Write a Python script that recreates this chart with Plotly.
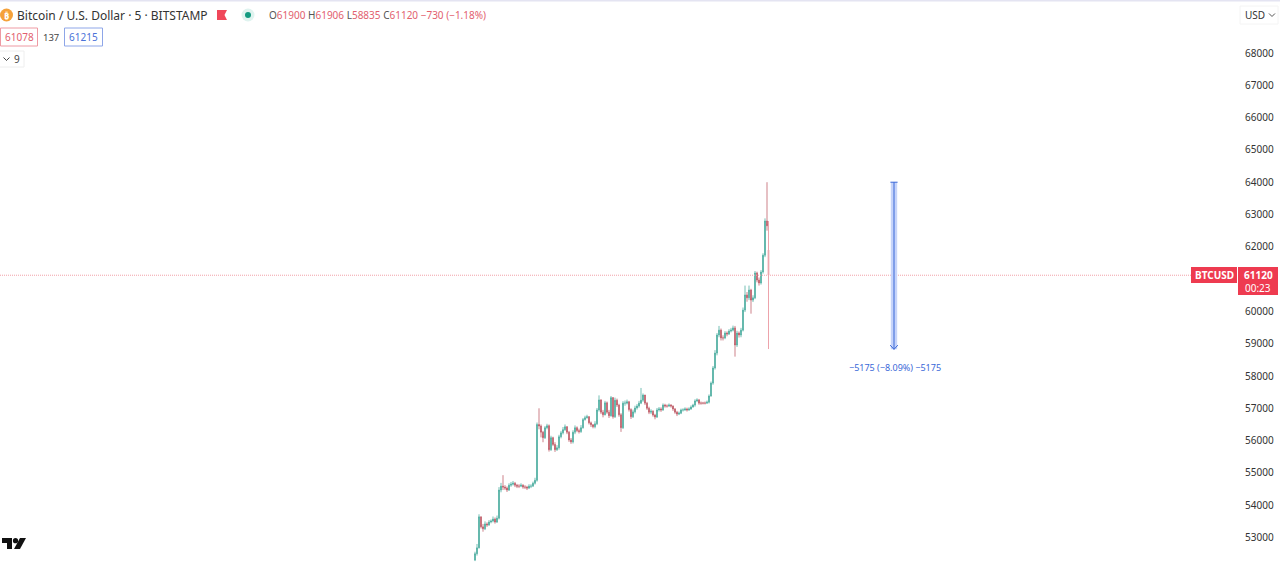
import plotly.graph_objects as go

W, H = 1280, 566
FONT = "Noto Sans"

# 5-minute BTCUSD candles
closes = [
    52500,52680,53640,53330,53270,53420,53390,53480,53510,53570,
    53480,53600,54470,54590,54560,54530,54470,54620,54650,54680,
    54620,54590,54590,54620,54560,54560,54530,54590,54590,54680,
    54770,56500,56450,56260,56090,56400,56460,55720,56090,55880,
    55720,55780,56120,56240,56340,56430,56260,56020,55960,56260,
    56400,56310,56280,56400,56650,56710,56740,56550,56490,56430,
    56520,56950,57260,56880,56800,57170,56880,56770,57330,56740,
    57250,57100,56800,56400,57160,57160,57200,56960,56740,56890,
    57010,57070,57160,57250,57410,57160,57000,56880,56910,56790,
    56730,56950,56980,56950,57100,57070,57070,57100,57070,56980,
    56880,56820,56850,56950,56950,56980,56950,56980,57040,57100,
    57230,57260,57160,57160,57160,57160,57190,57380,57780,58250,
    58710,59270,59420,59180,59180,59330,59300,59390,59420,59490,
    58960,59330,59270,59420,60040,60510,60420,60660,60350,60420,
    61190,60970,60880,61220,61740,62800,62650,
]
first_open = 52300
highs = [
    52560,52800,53720,53650,53420,53500,53470,53540,53560,53650,
    53620,53680,54560,54690,54930,54620,54580,54680,54720,54750,
    54720,54660,54650,54680,54650,54620,54600,54650,54650,54730,
    54850,56560,57000,56500,56300,56450,56520,56500,56150,56120,
    55950,55860,56180,56300,56420,56500,56450,56300,56080,56320,
    56470,56440,56370,56480,56700,56770,56800,56760,56590,56510,
    56600,57010,57400,57280,56950,57230,57210,56950,57380,57350,
    57330,57300,57140,56850,57220,57240,57270,57230,57000,56960,
    57080,57130,57230,57630,57460,57420,57200,57050,56970,56940,
    56830,57010,57040,57030,57150,57140,57120,57150,57130,57090,
    57010,56920,56900,56990,57000,57030,57020,57030,57090,57140,
    57280,57310,57290,57210,57200,57210,57240,57430,57830,58310,
    58800,59330,59550,59470,59260,59390,59380,59450,59490,59560,
    59550,59400,59380,59490,60120,60800,60600,60800,60700,60500,
    61250,61230,61050,61280,61800,62880,64000,
]
lows = [
    52270,52440,52660,53280,53180,53230,53330,53360,53440,53470,
    53430,53450,53560,54400,54470,54470,54410,54440,54570,54610,
    54560,54530,54530,54560,54510,54500,54470,54500,54530,54570,
    54640,54730,56350,56100,55950,56050,56350,55660,55680,55830,
    55650,55680,55720,56070,56190,56300,56200,55960,55900,55910,
    56200,56260,56220,56240,56370,56620,56680,56500,56420,56380,
    56380,56480,56900,56820,56720,56780,56830,56700,56740,56680,
    56700,57040,56740,56270,56360,57080,57120,56900,56670,56700,
    56840,56960,57020,57130,57200,57100,56950,56820,56820,56740,
    56660,56700,56900,56890,56920,57020,57020,57040,57020,56920,
    56830,56760,56790,56820,56900,56920,56900,56920,56950,57020,
    57050,57190,57110,57110,57120,57120,57140,57150,57360,57730,
    58200,58640,59200,59100,59100,59140,59230,59270,59350,59380,
    58600,58900,59190,59200,59380,59980,60300,60350,59930,60290,
    60380,60900,60800,60830,61170,61680,62500,
]
last_open, last_high, last_low, last_close = 61900, 62800, 58835, 61120

tick_values = [53000,54000,55000,56000,57000,58000,59000,60000,62000,63000,64000,65000,66000,67000,68000]
measure_top, measure_bottom = 64000, 58825
measure_text = "−5175 (−8.09%) −5175"

opens = [first_open] + closes[:-1]
bars = list(range(len(closes)))
last_bar = len(closes) - 0.25
measure_bar = 209.5

UP, DOWN = "#3aa596", "#b84a58"
PALE = "#eda3ab"
BLUE = "#3a68d8"
RED = "#ee3b50"

fig = go.Figure()
fig.add_trace(go.Candlestick(
    x=bars, open=opens, high=highs, low=lows, close=closes,
    increasing=dict(line=dict(color=UP, width=0.7), fillcolor=UP),
    decreasing=dict(line=dict(color=DOWN, width=0.7), fillcolor=DOWN),
    hoverinfo="skip", showlegend=False,
))
fig.add_trace(go.Candlestick(
    x=[last_bar], open=[last_open], high=[last_high], low=[last_low], close=[last_close],
    increasing=dict(line=dict(color=PALE, width=1), fillcolor=PALE),
    decreasing=dict(line=dict(color=PALE, width=1), fillcolor=PALE),
    hoverinfo="skip", showlegend=False, whiskerwidth=0,
))


def px(x):
    return x / W


def py(y):
    return 1 - y / H


def rect(x0, y0, x1, y1, fill="rgba(0,0,0,0)", line=None, width=1):
    return dict(type="rect", xref="paper", yref="paper", x0=px(x0), x1=px(x1), y0=py(y0), y1=py(y1),
                fillcolor=fill, line=dict(color=line or fill, width=width if line else 0), layer="above")


def circle(cx, cy, r, fill):
    return dict(type="circle", xref="paper", yref="paper", x0=px(cx - r), x1=px(cx + r), y0=py(cy - r), y1=py(cy + r),
                fillcolor=fill, line=dict(width=0), layer="above")


def poly(points, fill):
    d = "M" + " L".join(f"{px(a):.5f},{py(b):.5f}" for a, b in points) + " Z"
    return dict(type="path", xref="paper", yref="paper", path=d, fillcolor=fill, line=dict(width=0), layer="above")


def chevron(cx, cy, color):
    d = f"M{px(cx - 3):.5f},{py(cy - 1.5):.5f} L{px(cx):.5f},{py(cy + 1.5):.5f} L{px(cx + 3):.5f},{py(cy - 1.5):.5f}"
    return dict(type="path", xref="paper", yref="paper", path=d, line=dict(color=color, width=1), layer="above")


def label(x, y, text, size=11, color="#333", anchor="left", bold=False):
    t = f"<b>{text}</b>" if bold else text
    fig.add_annotation(xref="paper", yref="paper", x=px(x), y=py(y), text=t, showarrow=False,
                       xanchor=anchor, yanchor="middle", align="left", borderpad=0,
                       font=dict(family=FONT, size=size, color=color))


shapes = [
    # last price line
    dict(type="line", xref="paper", yref="y", x0=0, x1=px(1191), y0=last_close, y1=last_close,
         line=dict(color="#f2a0a8", width=1, dash="1px,1px")),
    # measure tool
    dict(type="rect", xref="x", yref="y", x0=measure_bar - 1.6, x1=measure_bar + 1.6,
         y0=measure_bottom, y1=measure_top, fillcolor="#c6d4fa", line=dict(width=0)),
    dict(type="line", xref="x", yref="y", x0=measure_bar, x1=measure_bar, y0=measure_bottom, y1=measure_top,
         line=dict(color=BLUE, width=1)),
    dict(type="line", xref="x", yref="y", x0=measure_bar - 1.8, x1=measure_bar + 1.8, y0=measure_top, y1=measure_top,
         line=dict(color=BLUE, width=1)),
    dict(type="line", xref="x", yref="y", x0=measure_bar - 1.9, x1=measure_bar, y0=measure_bottom + 130, y1=measure_bottom,
         line=dict(color=BLUE, width=1)),
    dict(type="line", xref="x", yref="y", x0=measure_bar + 1.9, x1=measure_bar, y0=measure_bottom + 130, y1=measure_bottom,
         line=dict(color=BLUE, width=1)),
    # header frame line
    rect(0, 0, W, 1.5, fill="#e4e4f2"),
    # symbol icon, flag, market dot
    circle(6.5, 15, 6.5, "#f5a13a"),
    poly([(217, 10), (227, 10), (224.5, 15), (227, 20), (217, 20)], "#f0475a"),
    circle(248, 15, 6.5, "#dff3ef"),
    circle(248, 15, 3, "#139a80"),
    # bid / ask / depth boxes
    rect(0.5, 28, 37.5, 46, fill="#ffffff", line="#ee9aa3"),
    rect(64.5, 28, 102.5, 46, fill="#ffffff", line="#8ea6e8"),
    rect(-1, 51, 24, 67, fill="#ffffff", line="#eeeeee"),
    rect(1240, 6, 1278, 24, fill="#ffffff", line="#f4f4f4"),
    chevron(6.5, 59, "#444444"),
    chevron(1272, 15, "#555555"),
    # price tags
    rect(1191, 267, 1237, 283, fill=RED),
    rect(1238, 267, 1278, 295, fill=RED),
    # logo
    poly([(2, 538), (12, 538), (12, 549), (7, 549), (7, 543), (2, 543)], "#111111"),
    circle(15.5, 540.7, 2.6, "#111111"),
    poly([(20, 538), (26, 538), (20, 549), (14, 549)], "#111111"),
]

fig.update_layout(
    width=W, height=H, autosize=False,
    margin=dict(l=0, r=0, t=0, b=0, pad=0),
    paper_bgcolor="#ffffff", plot_bgcolor="#ffffff",
    showlegend=False, hovermode=False,
    font=dict(family=FONT, size=10, color="#333333"),
    shapes=shapes,
    xaxis=dict(domain=[0, 1236 / W], range=[-237.5, 380.5], visible=False, rangeslider=dict(visible=False),
               showgrid=False, zeroline=False, fixedrange=True),
    yaxis=dict(side="right", range=[52118, 69641], tickmode="array", tickvals=tick_values,
               ticktext=[str(v) for v in tick_values], ticks="", showline=False, showgrid=False, zeroline=False,
               tickfont=dict(family=FONT, size=10, color="#333333"), ticklabelstandoff=8, fixedrange=True),
)

label(6.5, 15.5, "₿", size=9, color="#ffffff", anchor="center", bold=True)
label(16, 15.5, "Bitcoin / U.S. Dollar · 5 · BITSTAMP", size=12, color="#333333")
R = "#e2606e"
G = "#555555"
label(268, 15.5,
      f'<span style="color:{G}">O</span><span style="color:{R}">61900</span> '
      f'<span style="color:{G}">H</span><span style="color:{R}">61906</span> '
      f'<span style="color:{G}">L</span><span style="color:{R}">58835</span> '
      f'<span style="color:{G}">C</span><span style="color:{R}">61120</span> '
      f'<span style="color:{R}">−730 (−1.18%)</span>', size=10)
label(19, 37, "61078", size=10, color="#e2606e", anchor="center")
label(50.5, 37, "137", size=9.5, color="#444444", anchor="center")
label(83.5, 37, "61215", size=10, color="#4a72d8", anchor="center")
label(17, 59, "9", size=10, color="#444444", anchor="center")
label(1244, 15, "USD", size=10, color="#333333")
label(1214, 275, "BTCUSD", size=10, color="#ffffff", anchor="center", bold=True)
label(1258, 275, "61120", size=10, color="#ffffff", anchor="center", bold=True)
label(1258, 288, "00:23", size=10, color="#ffffff", anchor="center")
label(894.5, 367, measure_text, size=9, color=BLUE, anchor="center")

fig.write_html("out.html", config=dict(displayModeBar=False),
               post_script="document.body.style.margin='0';document.body.style.overflow='hidden';")
